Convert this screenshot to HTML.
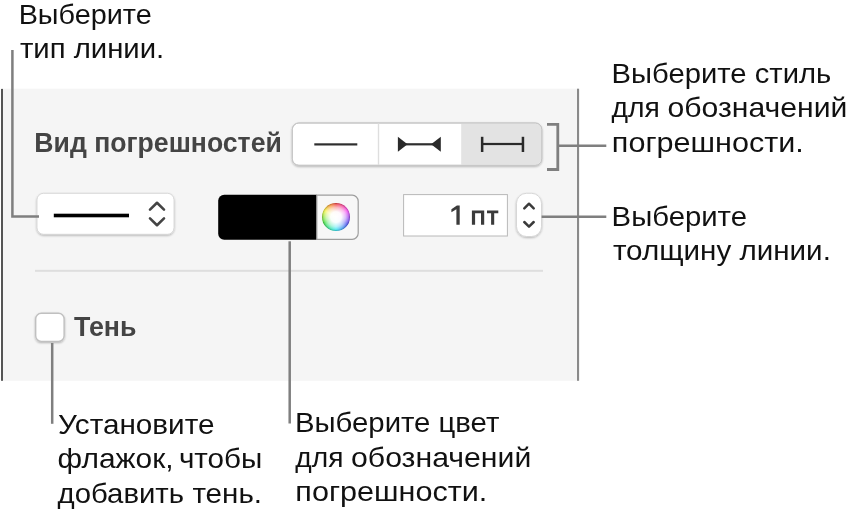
<!DOCTYPE html>
<html lang="ru">
<head>
<meta charset="utf-8">
<title>Вид погрешностей</title>
<style>
html,body{margin:0;padding:0;background:#fff;}
body{width:851px;height:516px;overflow:hidden;position:relative;font-family:"Liberation Sans",sans-serif;}
svg{position:absolute;left:0;top:0;display:block;}
text{font-family:"Liberation Sans",sans-serif;opacity:0.999;}
.c{font-size:27.25px;fill:#111;}
.b{font-size:27px;font-weight:bold;fill:#444;}
</style>
</head>
<body>
<svg width="851" height="516" viewBox="0 0 851 516">
<defs>
  <filter id="sh" x="-10%" y="-20%" width="120%" height="150%">
    <feGaussianBlur in="SourceAlpha" stdDeviation="0.8"/>
    <feOffset dy="0.8" result="o"/>
    <feComponentTransfer><feFuncA type="linear" slope="0.28"/></feComponentTransfer>
    <feMerge><feMergeNode/><feMergeNode in="SourceGraphic"/></feMerge>
  </filter>
</defs>

<!-- panel -->
<rect x="2" y="88.7" width="576" height="292.1" fill="#f5f5f5"/>
<rect x="1" y="88.9" width="2" height="291.9" fill="#555"/>
<rect x="577" y="88.7" width="2.1" height="292.1" fill="#8a8a8a"/>

<!-- heading -->
<text class="b" x="34.32" y="152" textLength="247.52" lengthAdjust="spacingAndGlyphs">Вид погрешностей</text>

<!-- segmented control -->
<g filter="url(#sh)">
  <rect x="292.3" y="123" width="249.5" height="42.3" rx="6.5" fill="#fff" stroke="#c6c6c6" stroke-width="1"/>
</g>
<path d="M461.2 123.5 H535.3 a6 6 0 0 1 6 6 V158.8 a6 6 0 0 1 -6 6 H461.2 Z" fill="#e3e3e3"/>
<rect x="292.3" y="123" width="249.5" height="42.3" rx="6.5" fill="none" stroke="#c6c6c6" stroke-width="1"/>
<rect x="377.8" y="123.5" width="1.4" height="41.5" fill="#dedede"/>
<!-- icon 1 -->
<rect x="314.3" y="143.3" width="43" height="2.2" fill="#2e2e2e"/>
<!-- icon 2 -->
<rect x="400" y="143.2" width="38" height="2.2" fill="#2e2e2e"/>
<path d="M397.9 136.8 L407.5 144.3 L397.9 151.8 Z" fill="#2a2a2a"/>
<path d="M440.8 136.8 L431.1 144.3 L440.8 151.8 Z" fill="#2a2a2a"/>
<!-- icon 3 -->
<rect x="481" y="142.9" width="43" height="2.2" fill="#2a2a2a"/>
<rect x="480.9" y="136.8" width="2.5" height="15.2" fill="#2a2a2a"/>
<rect x="521.7" y="136.8" width="2.5" height="15.2" fill="#2a2a2a"/>

<!-- popup button -->
<g filter="url(#sh)">
  <rect x="37" y="193.3" width="137" height="41" rx="6.5" fill="#fff" stroke="#d0d0d0" stroke-width="0.8"/>
</g>
<rect x="53.8" y="213.7" width="75.2" height="3.6" fill="#000"/>
<path d="M150 209.6 L157 202.8 L164 209.6" fill="none" stroke="#444" stroke-width="2.6" stroke-linecap="round" stroke-linejoin="round"/>
<path d="M150 218.4 L157 225.2 L164 218.4" fill="none" stroke="#444" stroke-width="2.6" stroke-linecap="round" stroke-linejoin="round"/>

<!-- colour well -->
<path d="M224.2 194.7 H316.8 V239.8 H224.2 a6 6 0 0 1 -6 -6 V200.7 a6 6 0 0 1 6 -6 Z" fill="#000"/>
<path d="M316.8 195.2 H352.2 a6 6 0 0 1 6 6 V233.3 a6 6 0 0 1 -6 6 H316.8 Z" fill="#f7f7f7" stroke="#9e9e9e" stroke-width="1.2"/>
<foreignObject x="322.2" y="203.2" width="27.6" height="27.6">
  <div style="width:27.6px;height:27.6px;border-radius:50%;box-shadow:inset 0 0 1.6px 0.3px rgba(0,0,0,0.45);background:radial-gradient(circle closest-side,#fff 0%,rgba(255,255,255,0.97) 38%,rgba(255,255,255,0.62) 68%,rgba(255,255,255,0) 100%),conic-gradient(#f04444,#f84cf0 60deg,#5054f0 122deg,#38e8f4 180deg,#44e044 245deg,#f4f444 300deg,#f89038 335deg,#f04444);"></div>
</foreignObject>

<!-- text field -->
<rect x="403.6" y="194.6" width="103.8" height="41.4" fill="#fff" stroke="#b8b8b8" stroke-width="1"/>
<g fill="#3b3b3b" aria-label="1 пт">
  <path d="M456.9 205.6 H459.7 V224.7 H456.4 V209.2 L451.4 212.2 V209.2 Z"/>
  <path d="M471.9 210.6 H484.2 V224.7 H481 V213.3 H475.1 V224.7 H471.9 Z"/>
  <path d="M487 210.6 H498.3 V213.2 H494.2 V224.7 H491.1 V213.2 H487 Z"/>
</g>

<!-- stepper -->
<g filter="url(#sh)">
  <rect x="516.5" y="193.3" width="25" height="43.2" rx="10" fill="#fff" stroke="#d0d0d0" stroke-width="0.8"/>
</g>
<path d="M524.3 208.3 L529 203.7 L533.7 208.3" fill="none" stroke="#3a3a3a" stroke-width="2.5" stroke-linecap="round" stroke-linejoin="round"/>
<path d="M524.3 222 L529 226.6 L533.7 222" fill="none" stroke="#3a3a3a" stroke-width="2.5" stroke-linecap="round" stroke-linejoin="round"/>

<!-- divider -->
<rect x="35" y="269.8" width="508" height="2" fill="#dedede"/>

<!-- checkbox -->
<g filter="url(#sh)">
  <rect x="35.7" y="313.3" width="28.4" height="28.1" rx="5.6" fill="#fff" stroke="#c0c0c0" stroke-width="1.4"/>
</g>
<text class="b" x="73.91" y="335.7" textLength="62.48" lengthAdjust="spacingAndGlyphs">Тень</text>

<!-- callout lines -->
<g fill="none" stroke="#7f7f7f" stroke-width="2.5">
  <path d="M12.4 50 V216.6 H39"/>
  <path d="M547 124.4 H557.8 V169.5 H547" stroke-width="2.8"/>
  <path d="M559 145.8 H606.3"/>
  <path d="M541.6 216.7 H606.3"/>
  <path d="M289.7 241.3 V423.5"/>
  <path d="M52.2 343 V423.8"/>
</g>

<!-- callout texts -->
<text class="c" x="18.65" y="23.8" textLength="133.02" lengthAdjust="spacingAndGlyphs">Выберите</text>
<text class="c" x="19.9" y="58.1" textLength="144.38" lengthAdjust="spacingAndGlyphs">тип линии.</text>

<text class="c" x="611.61" y="82.9" textLength="219.58" lengthAdjust="spacingAndGlyphs">Выберите стиль</text>
<text class="c" x="611.62" y="116.9" textLength="48.34" lengthAdjust="spacingAndGlyphs">для</text>
<text class="c" x="667.54" y="116.9" textLength="179.94" lengthAdjust="spacingAndGlyphs">обозначений</text>
<text class="c" x="611.88" y="151.8" textLength="191.91" lengthAdjust="spacingAndGlyphs">погрешности.</text>

<text class="c" x="611.61" y="225.7" textLength="135.39" lengthAdjust="spacingAndGlyphs">Выберите</text>
<text class="c" x="612.9" y="259.6" textLength="217.99" lengthAdjust="spacingAndGlyphs">толщину линии.</text>

<text class="c" x="57.92" y="433.6" textLength="156.58" lengthAdjust="spacingAndGlyphs">Установите</text>
<text class="c" x="57.6" y="468.3" textLength="115.97" lengthAdjust="spacingAndGlyphs">флажок,</text>
<text class="c" x="178.94" y="468.3" textLength="83.4" lengthAdjust="spacingAndGlyphs">чтобы</text>
<text class="c" x="57.52" y="503.3" textLength="126.58" lengthAdjust="spacingAndGlyphs">добавить</text>
<text class="c" x="192.4" y="503.3" textLength="69.69" lengthAdjust="spacingAndGlyphs">тень.</text>

<text class="c" x="294.92" y="431.9" textLength="204.48" lengthAdjust="spacingAndGlyphs">Выберите цвет</text>
<text class="c" x="295.32" y="466.6" textLength="48.13" lengthAdjust="spacingAndGlyphs">для</text>
<text class="c" x="351.04" y="466.6" textLength="180.25" lengthAdjust="spacingAndGlyphs">обозначений</text>
<text class="c" x="295.38" y="501.3" textLength="191.91" lengthAdjust="spacingAndGlyphs">погрешности.</text>
</svg>
</body>
</html>
